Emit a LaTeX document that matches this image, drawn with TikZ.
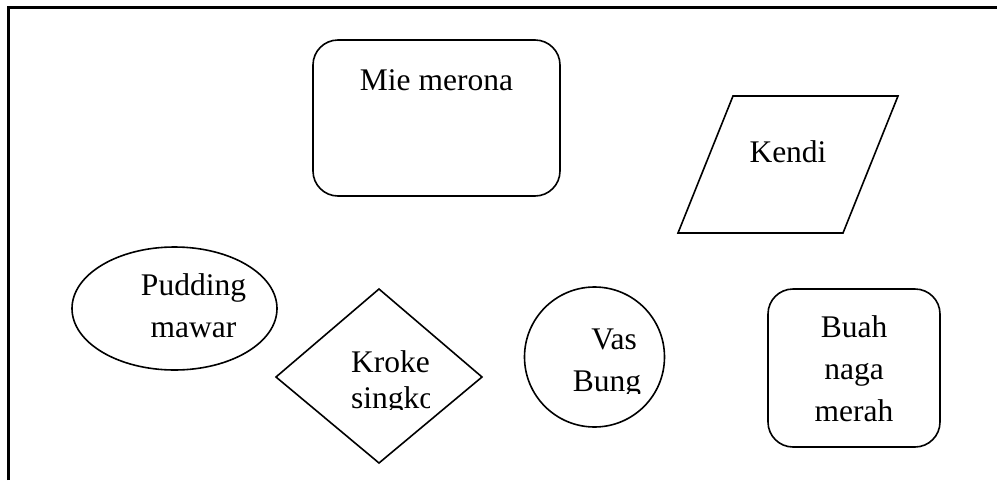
\documentclass[tikz,border=0pt]{standalone}
\usepackage{fontspec}
\setmainfont{Liberation Serif}
\usetikzlibrary{shapes.geometric}
\begin{document}
\begin{tikzpicture}[x=1pt,y=-1pt,
  outline/.style={draw=black,line width=1.6pt},
  roundbox/.style={outline,rounded corners=25pt,inner sep=0pt},
  lbl/.style={font=\fontsize{31.5}{42}\selectfont,inner sep=0pt,anchor=base},
  lblw/.style={lbl,anchor=base west}]
\useasboundingbox (0,0) rectangle (997,480);
\fill[white] (0,0) rectangle (997,480);

% page frame (open to the right and bottom)
\coordinate (fb) at (8.5,480);
\coordinate (fc) at (8.5,7.5);
\coordinate (fr) at (997,7.5);
\draw[line width=2.4pt] (fb) -- (fc) -- (fr);

% Mie merona
\node[roundbox,minimum width=247pt,minimum height=156pt] (mie) at (436.5,118) {};
\node[lbl] (mieT) at (436.5,90) {Mie merona};

% Kendi (parallelogram)
\coordinate (k1) at (733,96);
\coordinate (k2) at (898,96);
\coordinate (k3) at (843,233);
\coordinate (k4) at (678,233);
\draw[outline,line join=miter] (k1) -- (k2) -- (k3) -- (k4) -- cycle;
\node[lbl] (kendiT) at (788,162) {Kendi};

% Pudding mawar (ellipse)
\node[outline,ellipse,inner sep=0pt,minimum width=205pt,minimum height=123pt] (pud) at (174.5,308.5) {};
\node[lbl] (pudA) at (193.5,295) {Pudding};
\node[lbl] (pudB) at (193.5,337) {mawar};

% Kroket singkong (diamond)
\coordinate (d1) at (379,289);
\coordinate (d2) at (482,377);
\coordinate (d3) at (379,463);
\coordinate (d4) at (276,377);
\draw[outline,line join=miter] (d1) -- (d2) -- (d3) -- (d4) -- cycle;
\begin{scope}
  \clip (330,320) rectangle (429,409);
  \node[lblw] (kroA) at (351,372) {Kroke};
  \node[lblw] (kroB) at (351,408) {singko};
\end{scope}

% Vas Bunga (circle)
\node[outline,circle,inner sep=0pt,minimum size=140pt] (vas) at (594.5,357) {};
\begin{scope}
  \clip (540,300) rectangle (641,393.5);
  \node[lbl] (vasA) at (614,349) {Vas};
  \node[lbl] (vasB) at (614,391) {Bunga};
\end{scope}

% Buah naga merah
\node[roundbox,minimum width=172pt,minimum height=158pt] (buah) at (854,368) {};
\node[lbl] (buahA) at (854,337) {Buah};
\node[lbl] (buahB) at (854,379) {naga};
\node[lbl] (buahC) at (854,421) {merah};
\end{tikzpicture}
\end{document}
